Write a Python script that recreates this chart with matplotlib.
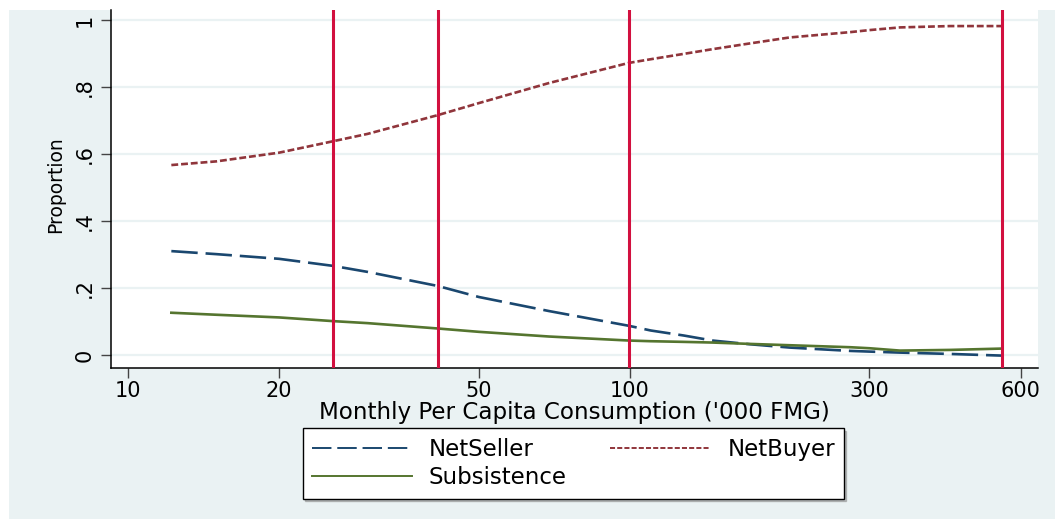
import matplotlib
matplotlib.use("Agg")
import matplotlib.pyplot as plt
from matplotlib.patches import Rectangle
from matplotlib.ticker import FixedLocator, FixedFormatter, NullLocator

# ---------------- smoothed proportions by consumption level ----------------
consumption = [12.2, 15, 20, 25.6, 30, 41.4, 50, 69, 99.5, 110, 128, 146,
               173, 208, 275, 300, 345, 434, 551]
net_seller = [0.310, 0.301, 0.287, 0.266, 0.248, 0.206, 0.173, 0.131, 0.087,
              0.073, 0.058, 0.043, 0.032, 0.022, 0.012, 0.010, 0.007, 0.003,
              -0.002]
net_buyer = [0.567, 0.578, 0.604, 0.638, 0.660, 0.716, 0.752, 0.812, 0.872,
             0.883, 0.899, 0.913, 0.930, 0.948, 0.964, 0.970, 0.978, 0.982,
             0.982]
subsistence = [0.126, 0.120, 0.112, 0.101, 0.095, 0.079, 0.069, 0.055, 0.043,
               0.041, 0.039, 0.037, 0.033, 0.029, 0.023, 0.020, 0.013, 0.015,
               0.019]

# quintile cut-offs
cutoffs = [25.6, 41.4, 99.5, 551]

x_ticks = [10, 20, 50, 100, 300, 600]
y_ticks = [0, 0.2, 0.4, 0.6, 0.8, 1.0]
y_tick_labels = ["0", ".2", ".4", ".6", ".8", "1"]

plt.rcParams["font.family"] = "DejaVu Sans"

W, H = 1055, 519
fig = plt.figure(figsize=(W / 100, H / 100), dpi=100, facecolor="white")

# graph region background
fig.patches.append(Rectangle((9 / W, 0), 1 - 9 / W, (H - 10) / H,
                             transform=fig.transFigure, facecolor="#EAF2F3",
                             edgecolor="none", zorder=-10))

ax = fig.add_axes([111 / W, (H - 368) / H, (1038 - 111) / W, (368 - 10) / H])
ax.set_facecolor("white")

ax.set_xscale("log")
ax.set_xlim(9.25, 650)
ax.set_ylim(-0.039, 1.03)

for yv in y_ticks:
    ax.axhline(yv, color="#EAF2F3", lw=1.6, zorder=0)

l_seller, = ax.plot(consumption, net_seller, color="#1A476F", lw=1.9,
                    dashes=(10, 3), label="NetSeller", zorder=3)
l_buyer, = ax.plot(consumption, net_buyer, color="#90353B", lw=1.9,
                   dashes=(2.6, 1.1), label="NetBuyer", zorder=3)
l_subs, = ax.plot(consumption, subsistence, color="#55752F", lw=1.9,
                  label="Subsistence", zorder=3)

for c in cutoffs:
    ax.axvline(c, color="#D2103F", lw=2.2, zorder=4)

ax.xaxis.set_major_locator(FixedLocator(x_ticks))
ax.xaxis.set_major_formatter(FixedFormatter([str(t) for t in x_ticks]))
ax.xaxis.set_minor_locator(NullLocator())
ax.set_yticks(y_ticks)
ax.set_yticklabels(y_tick_labels, rotation=90, va="center")

for side in ["top", "right"]:
    ax.spines[side].set_visible(False)
for side in ["left", "bottom"]:
    ax.spines[side].set_color("black")
    ax.spines[side].set_linewidth(1.1)

ax.tick_params(axis="both", direction="out", length=7.5, width=1.0,
               color="#444444", labelsize=15)
ax.tick_params(axis="x", pad=2)
ax.tick_params(axis="y", pad=4)

ax.set_xlabel("Monthly Per Capita Consumption ('000 FMG)", fontsize=16.6,
              labelpad=0)
ax.set_ylabel("Proportion", fontsize=13.5)
ax.yaxis.set_label_coords(-0.0496, 0.511)

leg = fig.legend([l_seller, l_subs, l_buyer],
                 ["NetSeller", "Subsistence", "NetBuyer"],
                 ncol=2, loc="center", bbox_to_anchor=(573.5 / W, (H - 463.5) / H),
                 fontsize=16.5, frameon=True, fancybox=False,
                 edgecolor="black", facecolor="white", framealpha=1,
                 handlelength=4.36, handletextpad=0.75, columnspacing=1.9,
                 labelspacing=0.25, borderpad=0.4,
                 shadow={"ox": 1.5, "oy": -1.5, "color": "#888888"})
leg.get_frame().set_linewidth(1.0)
for ln in leg.get_lines():
    ln.set_linewidth(1.4)

fig.savefig("out.png", dpi=100, facecolor=fig.get_facecolor())
